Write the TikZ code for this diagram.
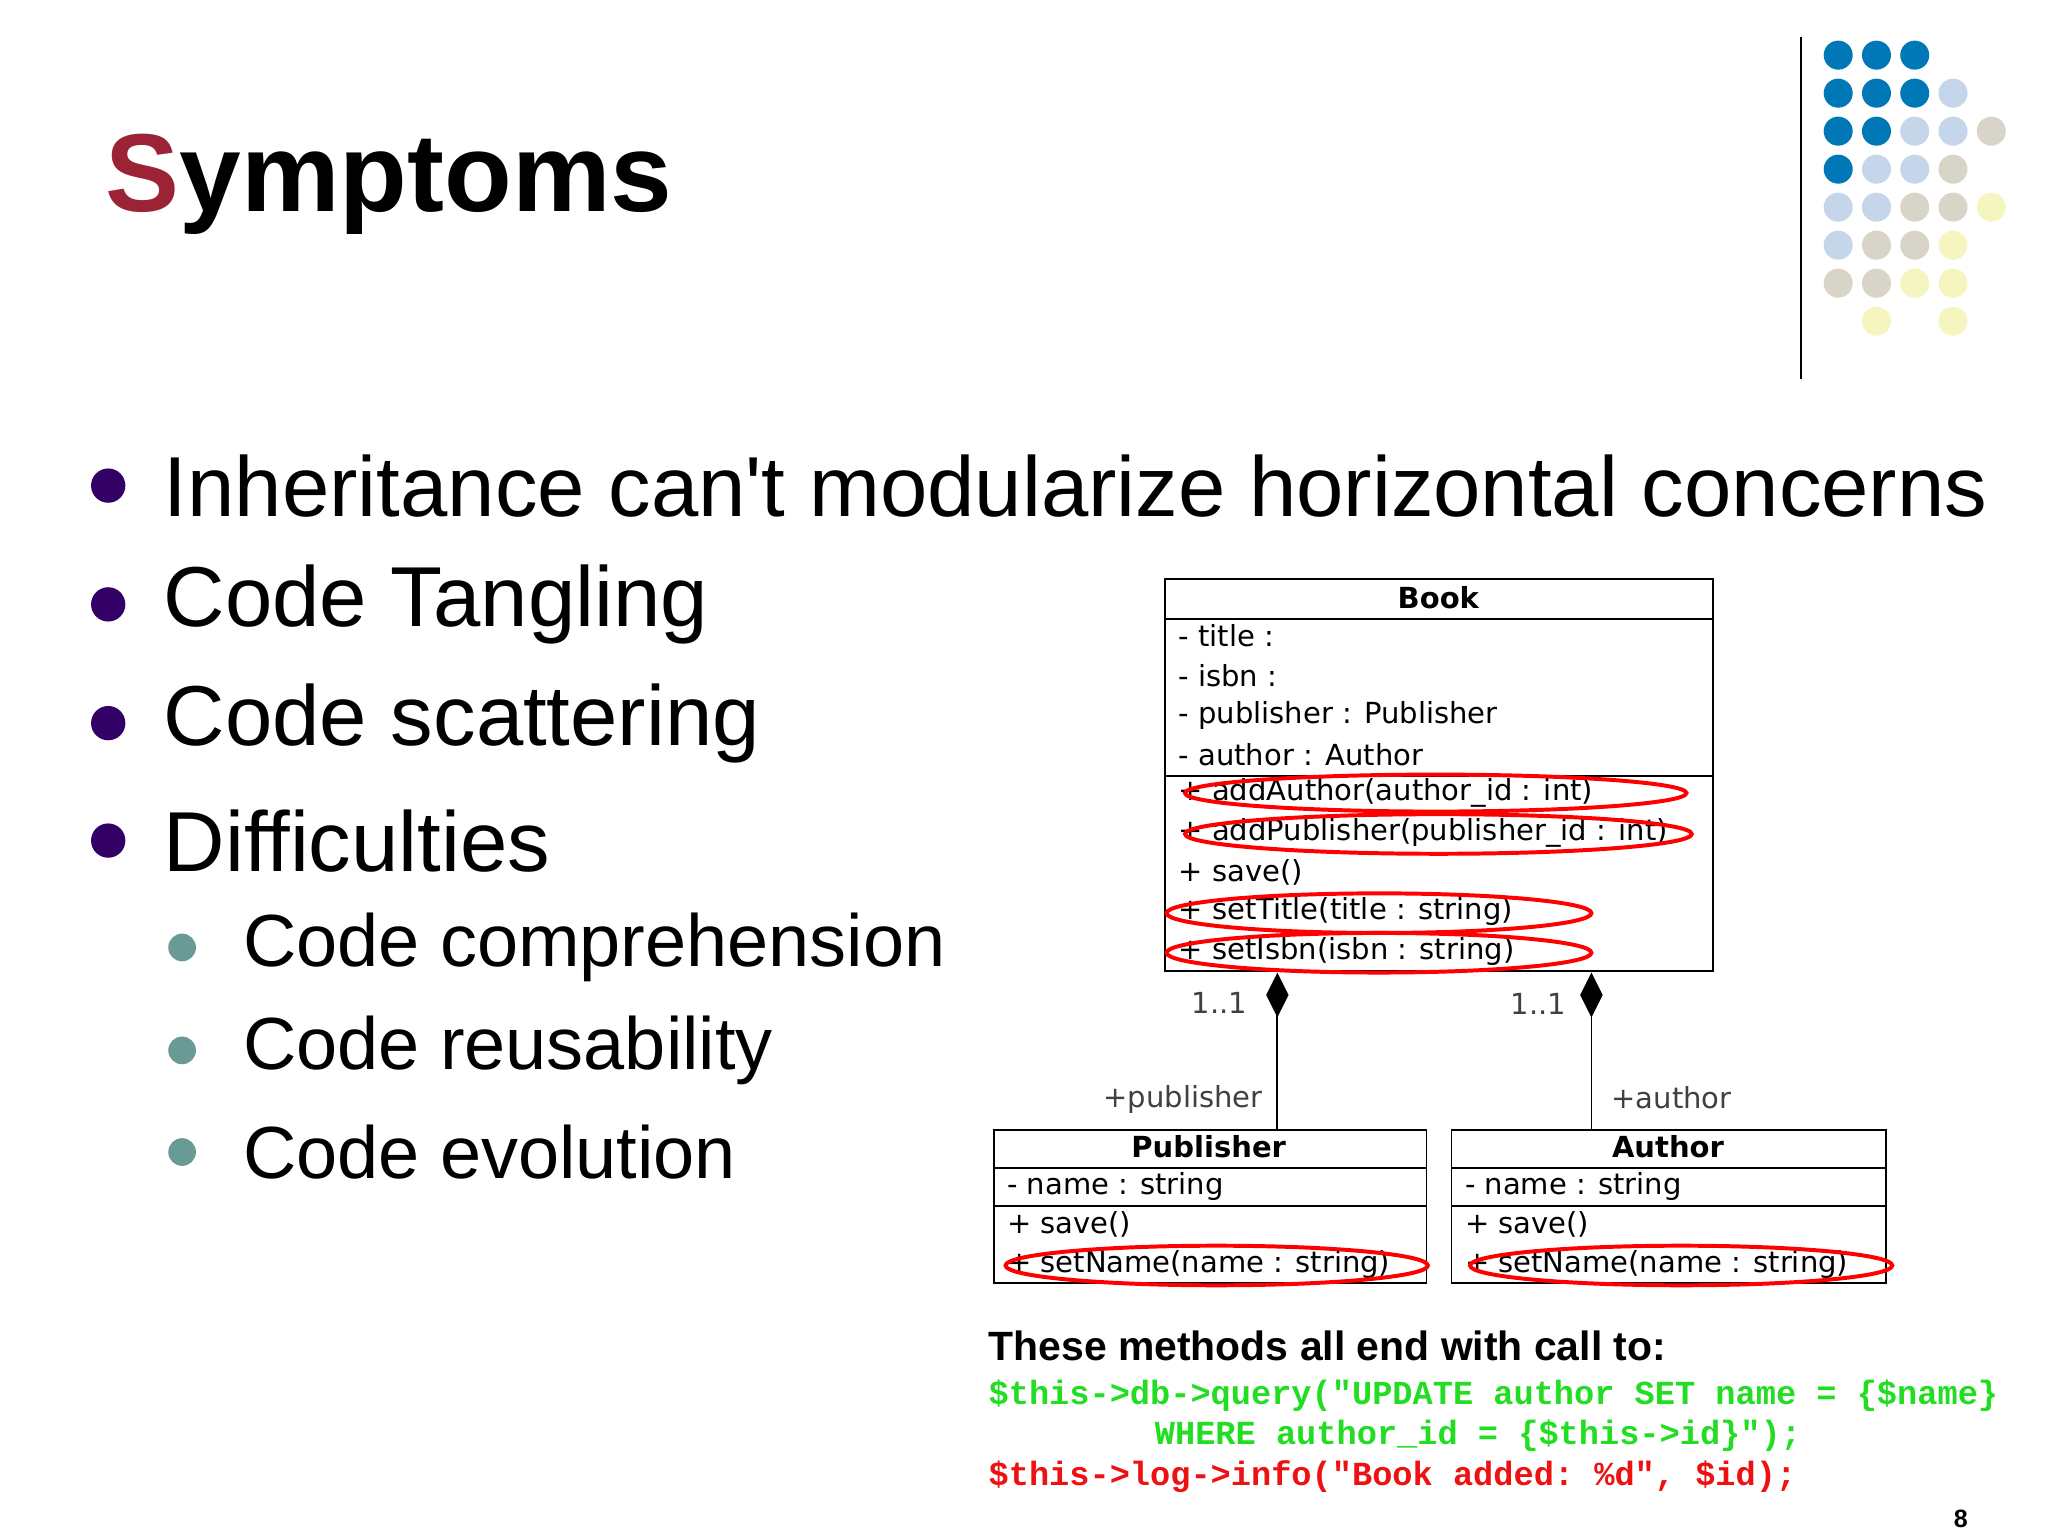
\documentclass[tikz,border=0pt]{standalone}
\usepackage{fontspec}
\setmainfont{Liberation Sans}
\setmonofont{Liberation Mono}
\newfontfamily\umlfont{DejaVu Sans}
\usetikzlibrary{arrows.meta,positioning}
\definecolor{titlered}{HTML}{9B2335}
\definecolor{bulletpurple}{HTML}{330066}
\definecolor{subteal}{HTML}{6A9A96}
\definecolor{dotB}{HTML}{0077B6}
\definecolor{dotL}{HTML}{C5D5EA}
\definecolor{dotG}{HTML}{D8D4C8}
\definecolor{dotY}{HTML}{F5F5C0}
\definecolor{codegreen}{HTML}{22DD22}
\definecolor{codered}{HTML}{EE1111}
\tikzset{
  bigtext/.style={anchor=west, font=\fontsize{64.5}{64.5}\selectfont, inner sep=0},
  subtext/.style={anchor=west, font=\fontsize{56}{56}\selectfont, inner sep=0},
  umlrow/.style={anchor=west, font=\umlfont\fontsize{22}{22}\selectfont, inner sep=0},
  umlhead/.style={font=\umlfont\bfseries\fontsize{22}{22}\selectfont, inner sep=0},
  umlbox/.style={draw, line width=1.4pt},
  hilite/.style={draw=red, line width=3pt},
  assoc/.style={line width=1.4pt, -{Diamond[length=34pt,width=17pt]}},
  multlabel/.style={font=\umlfont\fontsize{22}{22}\selectfont, text=black!75, inner sep=0},
  codeline/.style={anchor=west, font=\ttfamily\bfseries\fontsize{25.5}{25.5}\selectfont, inner sep=0},
}
\begin{document}
\begin{tikzpicture}[x=1pt,y=-1pt]
\useasboundingbox (0,0) rectangle (1552,1164);

% title
\node[anchor=west, inner sep=0, font=\bfseries\fontsize{84}{84}\selectfont] (title) at (80,140) {\textcolor{titlered}{S}ymptoms};

% logo dots
\draw[line width=1.6pt] (1365,28) -- (1365,287);
\foreach \row/\cols in {1/{1/dotB,2/dotB,3/dotB},
  2/{1/dotB,2/dotB,3/dotB,4/dotL},
  3/{1/dotB,2/dotB,3/dotL,4/dotL,5/dotG},
  4/{1/dotB,2/dotL,3/dotL,4/dotG},
  5/{1/dotL,2/dotL,3/dotG,4/dotG,5/dotY},
  6/{1/dotL,2/dotG,3/dotG,4/dotY},
  7/{1/dotG,2/dotG,3/dotY,4/dotY},
  8/{2/dotY,4/dotY}}
  \foreach \c/\col in \cols
    \fill[\col] ({1364+29*\c},{13+28.8*\row}) circle (11);

% bullets
\foreach \y/\txt [count=\i] in {368/Inheritance can\textquotesingle t modularize horizontal concerns,
  458/Code Tangling, 548/Code scattering, 637/Difficulties}{
  \fill[bulletpurple] (82,\y) circle (13);
  \node[bigtext] (b\i) at (124,\y) {\txt};
}
\foreach \y/\txt [count=\i] in {718/Code comprehension, 796/Code reusability, 873/Code evolution}{
  \fill[subteal] (138,\y) circle (10.5);
  \node[subtext] (s\i) at (184,\y) {\txt};
}

% Book class
\draw[umlbox] (883,439) rectangle (1298,736);
\draw[line width=1.4pt] (883,469) -- (1298,469);
\draw[line width=1.4pt] (883,588) -- (1298,588);
\node[umlhead] (book) at (1090,453) {Book};
\foreach \y/\txt in {482/- title :, 512/- isbn :, 542/- publisher : Publisher, 572/- author : Author,
  601/+ addAuthor(author\_id : int), 631/+ addPublisher(publisher\_id : int), 661/+ save(),
  691/+ setTitle(title : string), 721/+ setIsbn(isbn : string)}
  \node[umlrow] at (893,\y) {\txt};
\coordinate (bookP) at (968,737);
\coordinate (bookA) at (1206,737);

% Publisher class
\draw[umlbox] (753,856) rectangle (1081,972);
\draw[line width=1.4pt] (753,885) -- (1081,885);
\draw[line width=1.4pt] (753,914) -- (1081,914);
\node[umlhead] (publisher) at (916,869) {Publisher};
\node[umlrow] at (763,899) {- name : string};
\node[umlrow] at (763,928) {+ save()};
\node[umlrow] at (763,958) {+ setName(name : string)};
\coordinate (pubTop) at (968,856);

% Author class
\draw[umlbox] (1100,856) rectangle (1429,972);
\draw[line width=1.4pt] (1100,885) -- (1429,885);
\draw[line width=1.4pt] (1100,914) -- (1429,914);
\node[umlhead] (author) at (1264,869) {Author};
\node[umlrow] at (1110,899) {- name : string};
\node[umlrow] at (1110,928) {+ save()};
\node[umlrow] at (1110,958) {+ setName(name : string)};
\coordinate (autTop) at (1206,856);

% associations
\draw[assoc] (pubTop) -- (bookP);
\draw[assoc] (autTop) -- (bookA);
\node[multlabel] (m1) at (924,760) {1..1};
\node[multlabel] (m2) at (1166,761) {1..1};
\node[multlabel, anchor=east] (r1) at (957,833) {+publisher};
\node[multlabel, anchor=west] (r2) at (1221,832) {+author};

% highlights
\draw[hilite] (1088,601) ellipse (190 and 14);
\draw[hilite] (1090,632) ellipse (192 and 15);
\draw[hilite] (1045,692) ellipse (161 and 15);
\draw[hilite] (1045,722) ellipse (161 and 15);
\draw[hilite] (922,959) ellipse (160 and 15);
\draw[hilite] (1274,959) ellipse (160 and 15);

% note
\node[anchor=west, inner sep=0, font=\bfseries\fontsize{31}{31}\selectfont] (note) at (749,1020) {These methods all end with call to:};
\node[codeline, text=codegreen] (c1) at (749,1058) {\$this->db->query("UPDATE author SET name = \{\$name\}};
\node[codeline, text=codegreen] (c2) at (875,1088) {WHERE author\_id = \{\$this->id\}");};
\node[codeline, text=codered] (c3) at (749,1119) {\$this->log->info("Book added: \%d", \$id);};
\node[inner sep=0, font=\bfseries\fontsize{19}{19}\selectfont] (pg) at (1486,1151) {8};
\end{tikzpicture}
\end{document}
